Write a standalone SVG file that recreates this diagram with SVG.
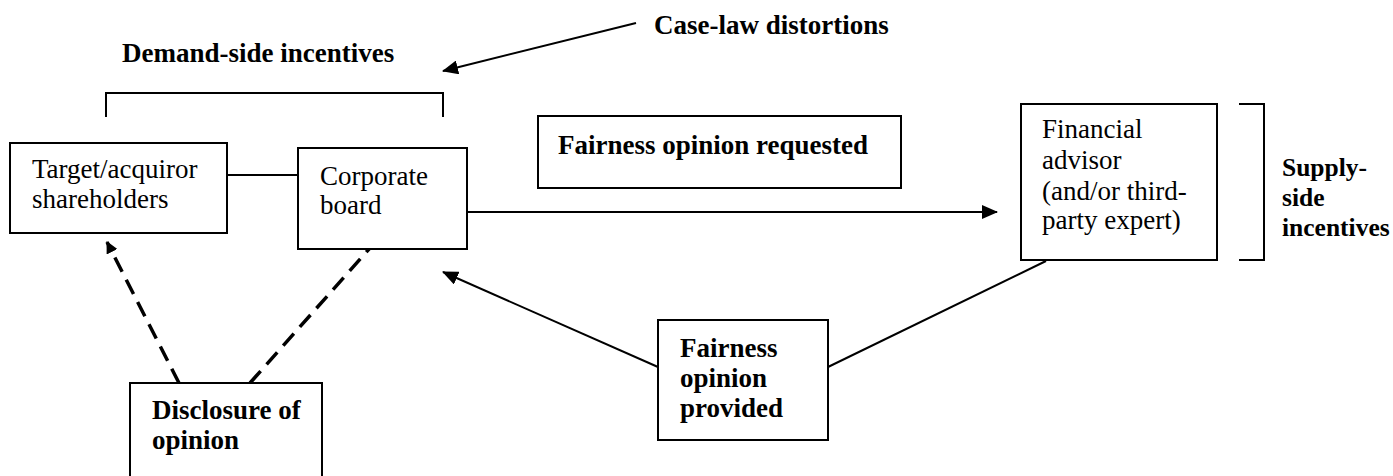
<svg xmlns="http://www.w3.org/2000/svg" width="1393" height="476" viewBox="0 0 1393 476">
<style>
.box{fill:#fff;stroke:#000;stroke-width:2}
.ln{stroke:#000;stroke-width:2;fill:none}
.dash{stroke:#000;stroke-width:3.5;fill:none;stroke-dasharray:16 9}
.r{font-family:"Liberation Serif",serif;font-size:27px;fill:#000}
.b{font-family:"Liberation Serif",serif;font-size:27px;font-weight:bold;fill:#000}
.bs{font-family:"Liberation Serif",serif;font-size:25.5px;font-weight:bold;fill:#000}
</style>
<defs>
<marker id="ah" markerWidth="16" markerHeight="14" refX="15" refY="7" orient="auto" markerUnits="userSpaceOnUse">
<path d="M0,0 L16,7 L0,14 Z" fill="#000"/>
</marker>
<marker id="ahs" markerWidth="12" markerHeight="12" refX="11" refY="6" orient="auto" markerUnits="userSpaceOnUse">
<path d="M0,0 L12,6 L0,12 Z" fill="#000"/>
</marker>
</defs>
<rect width="1393" height="476" fill="#fff"/>
<g id="connectors">
<line class="ln" x1="227" y1="175" x2="298" y2="175"/>
<line class="ln" x1="467" y1="212" x2="997" y2="212" marker-end="url(#ah)"/>
<line class="ln" x1="636" y1="23" x2="443" y2="71" marker-end="url(#ah)"/>
<line class="ln" x1="658" y1="367" x2="443" y2="272" marker-end="url(#ah)"/>
<line class="ln" x1="1046" y1="261" x2="828" y2="367"/>
<line class="dash" x1="179" y1="383" x2="107" y2="242" marker-end="url(#ahs)"/>
<line class="dash" x1="250" y1="383" x2="370" y2="248"/>
</g>
<g id="demand-label">
<text class="b" x="122" y="62">Demand-side incentives</text>
<path class="ln" d="M106,117 V93 H443 V117"/>
</g>
<g id="caselaw-label">
<text class="b" x="654" y="34">Case-law distortions</text>
</g>
<g id="shareholders">
<rect class="box" x="10" y="143" width="217" height="90"/>
<text class="r" x="32" y="178">Target/acquiror</text>
<text class="r" x="32" y="208">shareholders</text>
</g>
<g id="board">
<rect class="box" x="298" y="148" width="169" height="101"/>
<text class="r" x="320" y="185">Corporate</text>
<text class="r" x="320" y="214">board</text>
</g>
<g id="requested">
<rect class="box" x="538" y="116" width="363" height="72"/>
<text class="b" x="558" y="154">Fairness opinion requested</text>
</g>
<g id="advisor">
<rect class="box" x="1021" y="104" width="196" height="156"/>
<text class="r" x="1042" y="138">Financial</text>
<text class="r" x="1042" y="169">advisor</text>
<text class="r" x="1042" y="200">(and/or third-</text>
<text class="r" x="1042" y="229">party expert)</text>
</g>
<g id="supply-label">
<path class="ln" d="M1239,104 H1264 V260 H1239"/>
<text class="bs" x="1282" y="176">Supply-</text>
<text class="bs" x="1282" y="206">side</text>
<text class="bs" x="1282" y="236">incentives</text>
</g>
<g id="provided">
<rect class="box" x="658" y="320" width="170" height="120"/>
<text class="b" x="680" y="357">Fairness</text>
<text class="b" x="680" y="387">opinion</text>
<text class="b" x="680" y="417">provided</text>
</g>
<g id="disclosure">
<rect class="box" x="130" y="383" width="192" height="100"/>
<text class="b" x="152" y="419">Disclosure of</text>
<text class="b" x="152" y="449">opinion</text>
</g>
</svg>
